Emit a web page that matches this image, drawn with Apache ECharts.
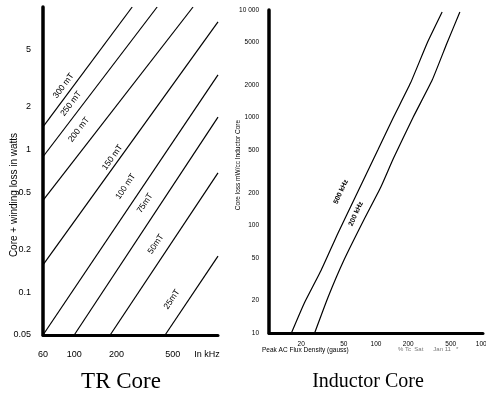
<!DOCTYPE html>
<html>
<head>
<meta charset="utf-8">
<script src="https://cdn.jsdelivr.net/npm/echarts@6/dist/echarts.min.js"></script>
<style>html,body{margin:0;padding:0;background:#fff}#c{width:486px;height:395px}</style>
</head>
<body>
<div id="c"></div>
<script>
// ---------- TR Core (left): frequency kHz vs loss W ----------
const trFreqTicks = [60, 100, 200, 500];
const trLossTicks = [0.05, 0.1, 0.2, 0.5, 1, 2, 5];
const trNames = ['300 mT', '250 mT', '200 mT', '150 mT', '100 mT', '75mT', '50mT', '25mT'];
const tr300 = [[60, 1.44], [258, 10]];
const tr250 = [[60, 0.89], [388, 10]];
const tr200 = [[60, 0.44], [698, 10]];
const tr150 = [[60, 0.155], [1050, 7.86]];
const tr100 = [[60, 0.05], [1050, 3.34]];
const tr75  = [[100, 0.05], [1050, 1.69]];
const tr50  = [[180, 0.05], [1050, 0.686]];
const tr25  = [[442, 0.05], [1050, 0.179]];
const trLines = [tr300, tr250, tr200, tr150, tr100, tr75, tr50, tr25];
// label anchors (layout, data coordinates)
const trLabelAt = [[84, 2.8], [95, 2.1], [108, 1.38], [187, 0.88], [232, 0.55], [318, 0.42], [380, 0.217], [494, 0.089]];

// ---------- Inductor Core (right): flux density (gauss) vs core loss ----------
const indFluxTicks = [20, 50, 100, 200, 500, 1000];
const indLossTicks = [10, 20, 50, 100, 200, 500, 1000, 2000, 5000, 10000];
const indNames = ['500 kHz', '200 kHz'];
const ind500Flux = [16.2, 21.4, 30.8, 44.2, 62.1, 104, 146, 210, 301, 415];
const ind500Loss = [10, 19, 38.5, 85, 172, 500, 1014, 2094, 4937, 9570];
const ind200Flux = [26.7, 35.7, 50.2, 76.9, 111, 146, 223, 335, 461, 608];
const ind200Loss = [10, 21.6, 47.6, 112, 227, 422, 1014, 2234, 4937, 9570];
const indLabelAt = [[47, 205], [65, 128]];

const chart = echarts.init(document.getElementById('c'), null, {renderer: 'canvas'});
const sans = 'Liberation Sans';
const serif = 'Liberation Serif';

function axisBase(w) {
  return {
    axisLine: {show: true, lineStyle: {color: '#000', width: w}},
    axisTick: {show: false},
    splitLine: {show: false},
    minorTick: {show: false},
    minorSplitLine: {show: false}
  };
}

const series = [];
trLines.forEach((pts, i) => {
  series.push({
    type: 'line', xAxisIndex: 0, yAxisIndex: 0, data: pts,
    showSymbol: false, symbol: 'none', silent: true, clip: true,
    lineStyle: {color: '#000', width: 1.2},
    markPoint: {
      symbol: 'circle', symbolSize: 1, itemStyle: {color: 'rgba(0,0,0,0)'},
      label: {show: true, position: 'inside', formatter: trNames[i], color: '#000',
              fontFamily: sans, fontSize: 8.5, rotate: 54},
      data: [{coord: trLabelAt[i], value: 0}]
    }
  });
});
const indSets = [[ind500Flux, ind500Loss], [ind200Flux, ind200Loss]];
indSets.forEach((s, i) => {
  series.push({
    type: 'line', xAxisIndex: 1, yAxisIndex: 1,
    data: s[0].map((f, k) => [f, s[1][k]]),
    showSymbol: false, symbol: 'none', silent: true, smooth: 0.15, clip: true,
    lineStyle: {color: '#000', width: 1.2},
    markPoint: {
      symbol: 'circle', symbolSize: 1, itemStyle: {color: 'rgba(0,0,0,0)'},
      label: {show: true, position: 'inside', formatter: indNames[i], color: '#000',
              fontFamily: sans, fontSize: 7, fontWeight: 'bold', rotate: 64},
      data: [{coord: indLabelAt[i], value: 0}]
    }
  });
});

const option = {
  backgroundColor: '#fff',
  animation: false,
  grid: [
    {left: 43, right: 268, top: 7, bottom: 60, outerBoundsMode: 'none'},
    {left: 269, right: 3, top: 10, bottom: 62, outerBoundsMode: 'none'}
  ],
  xAxis: [
    Object.assign(axisBase(3), {
      type: 'log', gridIndex: 0, min: 60, max: 1050, logBase: 10,
      axisLabel: {customValues: trFreqTicks, color: '#000', fontFamily: sans, fontSize: 9, margin: 15,
                  formatter: v => String(Math.round(v))}
    }),
    Object.assign(axisBase(3), {
      type: 'log', gridIndex: 1, min: 10, max: 1000, logBase: 10,
      axisLabel: {customValues: indFluxTicks, color: '#000', fontFamily: sans, fontSize: 6.5, margin: 8,
                  formatter: v => String(Math.round(v))}
    })
  ],
  yAxis: [
    Object.assign(axisBase(3.5), {
      type: 'log', gridIndex: 0, min: 0.05, max: 10, logBase: 10,
      axisLabel: {customValues: trLossTicks, color: '#000', fontFamily: sans, fontSize: 9, margin: 12,
                  formatter: v => String(+(+v).toPrecision(3))}
    }),
    Object.assign(axisBase(3.5), {
      type: 'log', gridIndex: 1, min: 10, max: 10000, logBase: 10,
      axisLabel: {customValues: indLossTicks, color: '#000', fontFamily: sans, fontSize: 6.5, margin: 10,
                  formatter: v => { const n = Math.round(v); return n === 10000 ? '10 000' : String(n); }}
    })
  ],
  graphic: [
    {type: 'text', x: 207, y: 355, style: {text: 'In kHz', font: '9px ' + sans, fill: '#000', textAlign: 'center', textVerticalAlign: 'middle'}},
    {type: 'text', x: 14, y: 195, rotation: Math.PI / 2, style: {text: 'Core + winding loss in watts', font: '10px ' + sans, fill: '#000', textAlign: 'center', textVerticalAlign: 'middle'}},
    {type: 'text', x: 238, y: 165, rotation: Math.PI / 2, style: {text: 'Core loss mW/cc Inductor Core', font: '6.5px ' + sans, fill: '#000', textAlign: 'center', textVerticalAlign: 'middle'}},
    {type: 'text', x: 262, y: 350, style: {text: 'Peak AC Flux Density (gauss)', font: '6.5px ' + sans, fill: '#000', textAlign: 'left', textVerticalAlign: 'middle'}},
    {type: 'text', x: 398, y: 349, style: {text: '% Tc  Sat      Jan 11   *', font: '6px ' + sans, fill: '#777', textAlign: 'left', textVerticalAlign: 'middle'}},
    {type: 'text', x: 121, y: 382, style: {text: 'TR Core', font: '23px ' + serif, fill: '#000', textAlign: 'center', textVerticalAlign: 'middle'}},
    {type: 'text', x: 368, y: 382, style: {text: 'Inductor Core', font: '20px ' + serif, fill: '#000', textAlign: 'center', textVerticalAlign: 'middle'}}
  ],
  series: series
};
chart.setOption(option);

// rotate line labels along their lines using the library's own coordinate conversion
function angleOf(p0, p1, gridIdx) {
  const a = chart.convertToPixel({xAxisIndex: gridIdx, yAxisIndex: gridIdx}, p0);
  const b = chart.convertToPixel({xAxisIndex: gridIdx, yAxisIndex: gridIdx}, p1);
  return Math.atan2(a[1] - b[1], b[0] - a[0]) * 180 / Math.PI;
}
const upd = series.map((s, i) => {
  let ang;
  if (i < trLines.length) ang = angleOf(trLines[i][0], trLines[i][1], 0);
  else { const d = s.data; ang = angleOf(d[0], d[d.length - 1], 1); }
  return {markPoint: {label: {rotate: ang}}};
});
chart.setOption({series: upd});
</script>
</body>
</html>
